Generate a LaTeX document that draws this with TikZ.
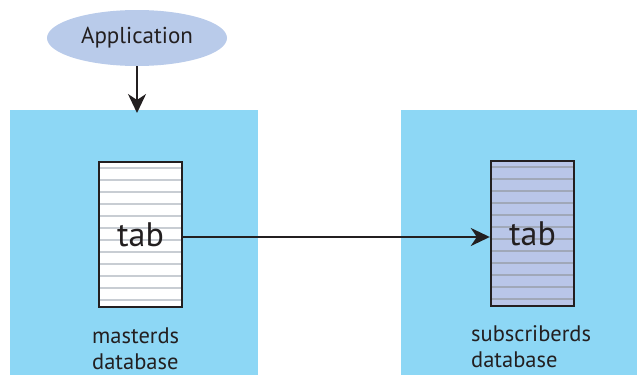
\documentclass[tikz,border=0pt]{standalone}
\usepackage{fontspec}
\setmainfont{PT Sans}
\usetikzlibrary{shapes.geometric,arrows.meta}
\definecolor{dbblue}{HTML}{8DD7F5}
\definecolor{appblue}{HTML}{B9CBEA}
\definecolor{tabblue}{HTML}{B9C6E8}
\definecolor{stripeA}{HTML}{C8CDD3}
\definecolor{stripeB}{HTML}{A0A8B8}
\definecolor{ink}{HTML}{231F20}
\tikzset{
  dbbox/.style={fill=dbblue, draw=none, minimum width=#1, minimum height=265pt, anchor=north west, inner sep=0pt},
  tabbox/.style={draw=ink, line width=2.4pt, minimum width=83pt, minimum height=145pt, inner sep=0pt, font=\fontsize{34}{36}\selectfont, text=ink},
  conn/.style={draw=ink, line width=2.4pt, -{Stealth[length=19pt,width=18pt,inset=6pt]}},
  lbl/.style={font=\fontsize{22.5}{26}\selectfont, text=ink, align=left, anchor=north west, inner sep=0pt},
}
\begin{document}
\begin{tikzpicture}[x=1pt,y=-1pt]
\useasboundingbox (0,0) rectangle (637,375);
\node[dbbox=248pt] (mdb) at (10,110) {};
\node[dbbox=236pt] (sdb) at (401,110) {};
\node[ellipse, fill=appblue, minimum width=180pt, minimum height=56pt, inner sep=0pt, font=\fontsize{23}{26}\selectfont, text=ink] (app) at (137,38) {Application};
% left tab
\fill[white] (99,162) rectangle (182,307);
\foreach \k in {0,...,11} \draw[stripeA, line width=1.3pt] (100,168+12*\k) -- (181,168+12*\k);
\node[tabbox] (tabL) at (140.5,234.5) {\raisebox{-3pt}{tab}};
% right tab
\fill[tabblue] (491,161) rectangle (574,306);
\foreach \k in {0,...,11} \draw[stripeB, line width=1.3pt] (492,167+12*\k) -- (573,167+12*\k);
\node[tabbox] (tabR) at (532.5,233.5) {\raisebox{-3pt}{tab}};
\coordinate (appin) at (137,113);
\draw[conn] (app.south) -- (appin);
\draw[conn] ([yshift=-2.5pt]tabL.east) -- ([yshift=-3.5pt]tabR.west);
\node[lbl] (mlbl) at (92,328) {masterds\\database};
\node[lbl] (slbl) at (471,325) {subscriberds\\database};
\end{tikzpicture}
\end{document}
